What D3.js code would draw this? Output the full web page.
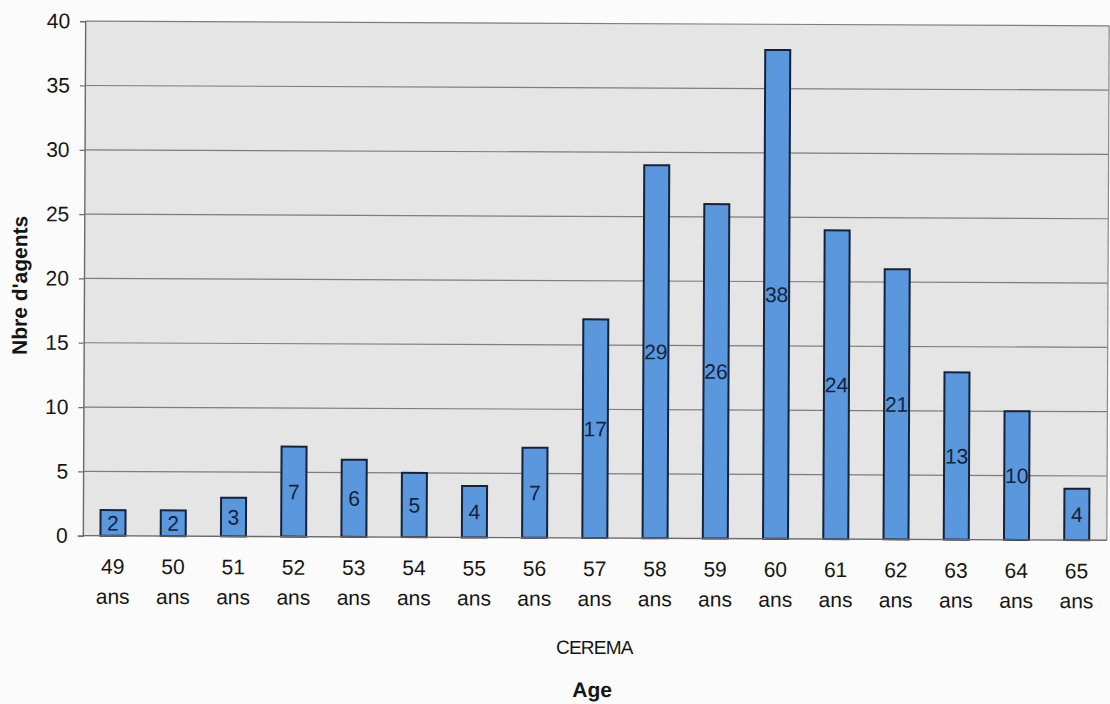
<!DOCTYPE html>
<html>
<head>
<meta charset="utf-8">
<script src="https://cdn.jsdelivr.net/npm/d3@7"></script>
<style>
  html, body { margin: 0; padding: 0; background: #fbfbfb; }
  svg { display: block; }
  text { font-family: Arial, "Liberation Sans", sans-serif; }
</style>
</head>
<body>
<svg id="chart" width="1110" height="704"></svg>
<script>
// Age distribution of CEREMA agents
const ages = ["49", "50", "51", "52", "53", "54", "55", "56", "57", "58", "59", "60", "61", "62", "63", "64", "65"];
const counts = [2, 2, 3, 7, 6, 5, 4, 7, 17, 29, 26, 38, 24, 21, 13, 10, 4];
const yTicks = [0, 5, 10, 15, 20, 25, 30, 35, 40];
const unitLabel = "ans";
const yTitle = "Nbre d'agents";
const xTitle = "Age";
const subTitle = "CEREMA";

const plotLeft = 84, plotRight = 1108, plotTop = 23.5, plotBottom = 538;

const svg = d3.select("#chart");
const root = svg.append("g")
  .attr("transform", "rotate(0.26, 596, 280)");

const x = d3.scaleBand()
  .domain(ages)
  .range([plotLeft, plotRight])
  .paddingInner(0.585)
  .paddingOuter(0.2925);

const y = d3.scaleLinear()
  .domain([0, 40])
  .range([plotBottom, plotTop]);

// plot area
root.append("rect")
  .attr("x", plotLeft).attr("y", plotTop)
  .attr("width", plotRight - plotLeft).attr("height", plotBottom - plotTop)
  .attr("fill", "#e5e5e5");

// horizontal gridlines
root.append("g")
  .selectAll("line")
  .data(yTicks.filter(d => d > 0))
  .join("line")
  .attr("x1", plotLeft).attr("x2", plotRight)
  .attr("y1", d => y(d)).attr("y2", d => y(d))
  .attr("stroke", "#7d7d7d")
  .attr("stroke-width", 1.2);

// right border
root.append("line")
  .attr("x1", plotRight).attr("x2", plotRight)
  .attr("y1", plotTop).attr("y2", plotBottom)
  .attr("stroke", "#8a8a8a").attr("stroke-width", 1.2);

// y axis
const yAxis = d3.axisLeft(y)
  .tickValues(yTicks)
  .tickSize(5)
  .tickPadding(10)
  .tickFormat(d3.format("d"));

const gy = root.append("g")
  .attr("transform", `translate(${plotLeft},0)`)
  .call(yAxis);
gy.select(".domain").attr("stroke", "#6a6a6a").attr("stroke-width", 1.4);
gy.selectAll(".tick line").attr("stroke", "#6a6a6a").attr("stroke-width", 1.2);
gy.selectAll(".tick text")
  .attr("fill", "#161616")
  .style("font-size", "21px")
  .style("font-family", "Arial, 'Liberation Sans', sans-serif");

// bars
root.append("g")
  .selectAll("rect")
  .data(ages.map((a, i) => ({ age: a, n: counts[i] })))
  .join("rect")
  .attr("x", d => x(d.age))
  .attr("y", d => y(d.n))
  .attr("width", x.bandwidth())
  .attr("height", d => y(0) - y(d.n))
  .attr("fill", "#5b97dc")
  .attr("stroke", "#14223a")
  .attr("stroke-width", 2);

// value labels, centred inside each bar
root.append("g")
  .selectAll("text")
  .data(ages.map((a, i) => ({ age: a, n: counts[i] })))
  .join("text")
  .attr("x", d => x(d.age) + x.bandwidth() / 2)
  .attr("y", d => (y(d.n) + y(0)) / 2)
  .attr("dy", "0.36em")
  .attr("text-anchor", "middle")
  .attr("fill", "#15233d")
  .style("font-size", "21px")
  .text(d => d.n);

// x axis baseline
root.append("line")
  .attr("x1", plotLeft).attr("x2", plotRight)
  .attr("y1", y(0)).attr("y2", y(0))
  .attr("stroke", "#6a6a6a").attr("stroke-width", 1.4);

// x category labels, two lines each
const xl = root.append("g")
  .selectAll("text")
  .data(ages)
  .join("text")
  .attr("text-anchor", "middle")
  .attr("fill", "#161616")
  .style("font-size", "21px");
xl.append("tspan")
  .attr("x", d => x(d) + x.bandwidth() / 2)
  .attr("y", 576)
  .text(d => d);
xl.append("tspan")
  .attr("x", d => x(d) + x.bandwidth() / 2)
  .attr("y", 606)
  .text(unitLabel);

// subtitle and axis titles
root.append("text")
  .attr("x", 596).attr("y", 654)
  .attr("text-anchor", "middle")
  .attr("fill", "#141414")
  .style("font-size", "19px")
  .style("letter-spacing", "-0.8px")
  .text(subTitle);

root.append("text")
  .attr("x", 594).attr("y", 697)
  .attr("text-anchor", "middle")
  .attr("fill", "#141414")
  .style("font-size", "21px")
  .style("font-weight", "bold")
  .text(xTitle);

root.append("text")
  .attr("transform", "translate(27, 288) rotate(-90)")
  .attr("text-anchor", "middle")
  .attr("fill", "#141414")
  .style("font-size", "21px")
  .style("font-weight", "bold")
  .text(yTitle);
</script>
</body>
</html>
